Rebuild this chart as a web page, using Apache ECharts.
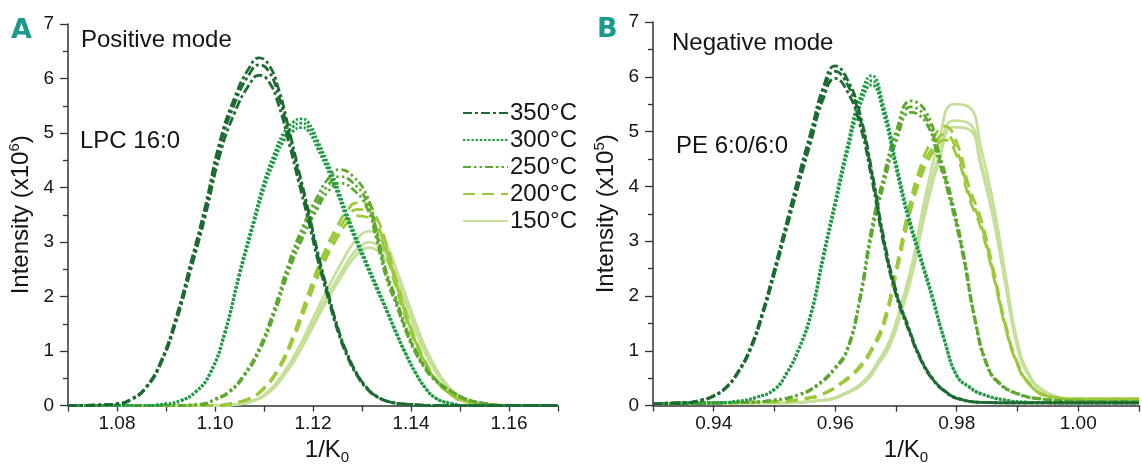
<!DOCTYPE html>
<html>
<head>
<meta charset="utf-8">
<script src="https://cdn.jsdelivr.net/npm/echarts@6/dist/echarts.min.js"></script>
<style>html,body{margin:0;padding:0;background:#fff}#c{width:1142px;height:470px}</style>
</head>
<body>
<div id="c"></div>
<script>
// ---------- DATA ----------
const temps = ['350°C', '300°C', '250°C', '200°C', '150°C'];
const colors = ['#1d6b33', '#219c48', '#5ea832', '#9cc93a', '#c6df9a'];

const xTicksA = [1.08, 1.10, 1.12, 1.14, 1.16];
const xTicksB = [0.94, 0.96, 0.98, 1.00];

// Panel A (positive mode, LPC 16:0), intensity x10^6
const xA350 = [1.070,1.076,1.080,1.083,1.086,1.089,1.092,1.095,1.098,1.101,1.104,1.107,1.109,1.111,1.113,1.115,1.117,1.119,1.121,1.123,1.125,1.127,1.129,1.131,1.133,1.136,1.140,1.145,1.170];
const yA350a = [0,0.01,0.03,0.12,0.35,0.82,1.6,2.6,3.65,4.85,5.65,6.2,6.38,6.25,5.8,5.1,4.35,3.6,2.8,2.1,1.45,0.95,0.58,0.33,0.17,0.06,0.02,0,0];
const yA350b = [0,0.01,0.03,0.12,0.34,0.8,1.57,2.55,3.58,4.75,5.54,6.08,6.25,6.13,5.68,5.0,4.26,3.53,2.74,2.06,1.42,0.93,0.57,0.32,0.17,0.06,0.02,0,0];
const yA350c = [0,0.01,0.03,0.11,0.33,0.78,1.52,2.47,3.47,4.6,5.37,5.89,6.06,5.94,5.51,4.85,4.13,3.42,2.66,2.0,1.38,0.9,0.55,0.31,0.16,0.06,0.02,0,0];

const xA300 = [1.070,1.085,1.090,1.093,1.096,1.099,1.102,1.105,1.108,1.110,1.112,1.114,1.116,1.1175,1.119,1.121,1.123,1.125,1.127,1.129,1.131,1.133,1.135,1.137,1.139,1.141,1.143,1.145,1.148,1.152,1.170];
const yA300a = [0,0,0.03,0.09,0.25,0.6,1.35,2.45,3.45,4.1,4.6,5.0,5.2,5.26,5.2,4.85,4.45,4.0,3.5,3.05,2.62,2.2,1.78,1.35,0.95,0.6,0.32,0.14,0.04,0,0];
const yA300b = [0,0,0.03,0.09,0.25,0.59,1.33,2.41,3.4,4.04,4.53,4.93,5.12,5.18,5.12,4.78,4.38,3.94,3.45,3.0,2.58,2.17,1.75,1.33,0.94,0.59,0.32,0.14,0.04,0,0];
const yA300c = [0,0,0.03,0.09,0.24,0.58,1.31,2.38,3.35,3.98,4.46,4.85,5.04,5.1,5.04,4.7,4.32,3.88,3.4,2.96,2.54,2.13,1.73,1.31,0.92,0.58,0.31,0.14,0.04,0,0];

const xA250 = [1.070,1.090,1.097,1.100,1.103,1.106,1.109,1.112,1.115,1.118,1.121,1.123,1.1255,1.128,1.131,1.133,1.135,1.137,1.139,1.141,1.143,1.145,1.148,1.151,1.155,1.160,1.170];
const yA250a = [0,0,0.02,0.12,0.27,0.58,1.05,1.75,2.6,3.3,3.85,4.15,4.33,4.22,3.85,3.2,2.45,1.95,1.42,1.0,0.7,0.48,0.28,0.13,0.04,0,0];
const yA250b = [0,0,0.02,0.11,0.26,0.56,1.02,1.7,2.52,3.2,3.73,4.03,4.2,4.1,3.74,3.12,2.4,1.9,1.38,0.98,0.68,0.47,0.27,0.13,0.04,0,0];
const yA250c = [0,0,0.02,0.11,0.25,0.55,0.99,1.65,2.45,3.1,3.63,3.92,4.08,3.98,3.63,3.03,2.33,1.85,1.35,0.95,0.66,0.45,0.26,0.12,0.04,0,0];

const xA200 = [1.070,1.100,1.104,1.107,1.110,1.113,1.116,1.119,1.122,1.125,1.127,1.129,1.131,1.133,1.135,1.137,1.139,1.141,1.143,1.145,1.148,1.151,1.155,1.160,1.170];
const yA200a = [0,0,0.05,0.13,0.33,0.7,1.3,2.05,2.75,3.3,3.58,3.72,3.7,3.45,2.95,2.3,1.7,1.2,0.8,0.5,0.22,0.08,0.02,0,0];
const yA200b = [0,0,0.05,0.13,0.32,0.68,1.26,1.98,2.66,3.19,3.46,3.6,3.58,3.34,2.86,2.23,1.65,1.16,0.77,0.48,0.21,0.08,0.02,0,0];
const yA200c = [0,0,0.05,0.12,0.31,0.66,1.22,1.92,2.57,3.09,3.35,3.48,3.46,3.23,2.76,2.15,1.59,1.12,0.75,0.47,0.21,0.07,0.02,0,0];

const xA150 = [1.070,1.100,1.105,1.108,1.111,1.114,1.117,1.120,1.123,1.126,1.128,1.130,1.1315,1.133,1.135,1.137,1.139,1.141,1.143,1.145,1.147,1.149,1.152,1.156,1.160,1.170];
const yA150a = [0,0,0.03,0.1,0.27,0.6,1.05,1.6,2.15,2.65,2.95,3.15,3.2,3.15,2.95,2.5,2.0,1.5,1.05,0.7,0.42,0.24,0.09,0.02,0,0];
const yA150b = [0,0,0.03,0.09,0.25,0.56,0.98,1.5,2.02,2.48,2.77,2.95,3.0,2.95,2.77,2.35,1.88,1.41,0.98,0.66,0.39,0.22,0.08,0.02,0,0];
const yA150c = [0,0,0.03,0.09,0.24,0.54,0.95,1.45,1.95,2.4,2.67,2.85,2.9,2.85,2.67,2.27,1.81,1.36,0.95,0.63,0.38,0.22,0.08,0.02,0,0];

// Panel B (negative mode, PE 6:0/6:0), intensity x10^5
const xB350 = [0.930,0.935,0.938,0.940,0.942,0.944,0.946,0.948,0.950,0.952,0.954,0.956,0.958,0.960,0.962,0.964,0.966,0.968,0.970,0.972,0.974,0.976,0.978,0.980,0.984,0.990,1.000,1.010];
const yB350a = [0.04,0.05,0.1,0.18,0.33,0.62,1.05,1.7,2.5,3.35,4.2,5.0,5.8,6.2,5.95,5.35,4.3,3.05,2.1,1.45,0.88,0.5,0.27,0.14,0.06,0.05,0.05,0.05];
const yB350b = [0.04,0.05,0.1,0.18,0.33,0.61,1.03,1.67,2.46,3.3,4.14,4.93,5.71,6.1,5.86,5.27,4.24,3.0,2.07,1.43,0.87,0.49,0.27,0.14,0.06,0.05,0.05,0.05];
const yB350c = [0.04,0.05,0.1,0.17,0.32,0.6,1.01,1.64,2.41,3.23,4.04,4.82,5.59,5.97,5.73,5.15,4.14,2.94,2.02,1.4,0.85,0.48,0.26,0.13,0.06,0.05,0.05,0.05];

const xB300 = [0.930,0.940,0.944,0.947,0.950,0.952,0.954,0.956,0.958,0.960,0.962,0.964,0.966,0.968,0.970,0.972,0.974,0.976,0.978,0.980,0.982,0.984,0.988,0.992,1.000,1.010];
const yB300a = [0.04,0.05,0.08,0.15,0.3,0.6,1.05,1.7,2.75,3.75,4.75,5.6,6.02,5.45,4.45,3.5,2.75,2.0,1.2,0.55,0.35,0.22,0.1,0.06,0.05,0.05];
const yB300b = [0.04,0.05,0.08,0.15,0.3,0.59,1.03,1.66,2.69,3.7,4.68,5.52,5.93,5.37,4.38,3.45,2.71,1.96,1.18,0.55,0.34,0.22,0.1,0.06,0.05,0.05];
const yB300c = [0.04,0.05,0.08,0.15,0.29,0.58,1.02,1.64,2.66,3.64,4.62,5.44,5.85,5.3,4.32,3.4,2.67,1.94,1.17,0.54,0.34,0.21,0.1,0.06,0.05,0.05];

const xB250 = [0.930,0.945,0.950,0.954,0.957,0.960,0.962,0.964,0.966,0.968,0.970,0.9725,0.975,0.977,0.979,0.981,0.983,0.985,0.987,0.990,0.994,1.000,1.010];
const yB250a = [0.04,0.06,0.1,0.2,0.38,0.7,1.05,1.95,3.25,4.2,5.0,5.56,5.35,4.65,3.85,2.85,1.6,0.75,0.42,0.22,0.12,0.08,0.07];
const yB250b = [0.04,0.06,0.1,0.2,0.37,0.69,1.03,1.91,3.18,4.12,4.9,5.45,5.24,4.56,3.77,2.79,1.57,0.74,0.41,0.22,0.12,0.08,0.07];
const yB250c = [0.04,0.06,0.1,0.19,0.36,0.67,1.01,1.88,3.12,4.04,4.81,5.35,5.15,4.48,3.7,2.74,1.54,0.72,0.4,0.21,0.12,0.08,0.07];

const xB200 = [0.930,0.950,0.955,0.958,0.961,0.964,0.966,0.968,0.970,0.972,0.974,0.976,0.978,0.980,0.982,0.984,0.986,0.988,0.990,0.992,0.995,1.000,1.010];
const yB200a = [0.04,0.07,0.13,0.22,0.42,0.72,1.05,1.55,2.5,3.55,4.35,4.85,5.1,4.8,4.0,3.4,2.5,1.5,0.78,0.4,0.18,0.12,0.12];
const yB200b = [0.04,0.07,0.13,0.21,0.41,0.7,1.02,1.5,2.43,3.45,4.22,4.71,4.95,4.66,3.88,3.3,2.43,1.46,0.76,0.39,0.17,0.12,0.12];
const yB200c = [0.04,0.07,0.12,0.21,0.4,0.68,1.0,1.47,2.38,3.37,4.13,4.61,4.85,4.56,3.8,3.23,2.38,1.43,0.74,0.38,0.17,0.12,0.12];

const xB150 = [0.930,0.950,0.958,0.962,0.965,0.967,0.969,0.971,0.973,0.974,0.975,0.977,0.9795,0.982,0.984,0.986,0.988,0.990,0.992,0.994,0.997,1.000,1.010];
const yB150a = [0.04,0.05,0.1,0.25,0.48,0.8,1.2,1.9,2.75,3.35,3.9,4.8,5.5,5.45,4.7,3.7,2.4,1.15,0.55,0.3,0.15,0.1,0.08];
const yB150b = [0.04,0.05,0.1,0.24,0.45,0.76,1.13,1.8,2.6,3.17,3.69,4.54,5.2,5.15,4.44,3.5,2.27,1.09,0.52,0.28,0.14,0.1,0.08];
const yB150c = [0.04,0.05,0.09,0.23,0.44,0.74,1.1,1.75,2.54,3.1,3.6,4.43,5.08,5.04,4.35,3.42,2.22,1.06,0.51,0.28,0.14,0.1,0.08];

// ---------- BUILD ----------
const FONT = '"Liberation Sans", Arial, sans-serif';
const TXT = '#141414';
const dashes = [[9,3,3,3], [2.4,1.8], [8,3,2.5,3,2.5,3], [12,7], 'solid'];

const panelA = [
  [xA350, [yA350a, yA350b, yA350c]],
  [xA300, [yA300a, yA300b, yA300c]],
  [xA250, [yA250a, yA250b, yA250c]],
  [xA200, [yA200a, yA200b, yA200c]],
  [xA150, [yA150a, yA150b, yA150c]]
];
const panelB = [
  [xB350, [yB350a, yB350b, yB350c]],
  [xB300, [yB300a, yB300b, yB300c]],
  [xB250, [yB250a, yB250b, yB250c]],
  [xB200, [yB200a, yB200b, yB200c]],
  [xB150, [yB150a, yB150b, yB150c]]
];

const series = [];
function addPanel(panel, axisIndex) {
  for (let t = temps.length - 1; t >= 0; t--) {
    const [xs, reps] = panel[t];
    reps.forEach(ys => {
      series.push({
        type: 'line', name: temps[t],
        xAxisIndex: axisIndex, yAxisIndex: axisIndex,
        data: xs.map((x, i) => [x, ys[i]]),
        smooth: true,
        symbol: 'none', showSymbol: false,
        clip: true,
        lineStyle: { color: colors[t], width: 2.8, type: dashes[t], cap: 'butt' },
        itemStyle: { color: colors[t] },
        emphasis: { disabled: true },
        silent: true, animation: false
      });
    });
  }
}
addPanel(panelA, 0);
addPanel(panelB, 1);

function xLabelFmt(ticks) {
  return v => ticks.some(t => Math.abs(t - v) < 1e-6) ? v.toFixed(2) : '';
}

function makeX(idx, min, max, ticks, padLeft) {
  return {
    type: 'value', gridIndex: idx, min: min, max: max, interval: 0.01,
    splitLine: { show: false },
    axisLine: { onZero: false, lineStyle: { color: '#333', width: 1.5 } },
    axisTick: { show: true, length: 6, lineStyle: { color: '#333', width: 1.3 } },
    axisLabel: { formatter: xLabelFmt(ticks), fontSize: 19, color: TXT, fontFamily: FONT, margin: 9, showMaxLabel: true, showMinLabel: true },
    name: '1/K{s|0}', nameLocation: 'middle', nameGap: 20,
    nameTextStyle: { fontSize: 24, color: TXT, fontFamily: FONT, padding: [0, 0, 0, padLeft],
      rich: { s: { fontSize: 15, fontFamily: FONT, color: TXT, padding: [14, 0, 0, 0] } } }
  };
}
function makeY(idx, exp) {
  return {
    type: 'value', gridIndex: idx, min: 0, max: 7, interval: 1,
    splitLine: { show: false },
    axisLine: { show: true, onZero: false, lineStyle: { color: '#333', width: 1.5 } },
    axisTick: { show: true, length: 8, lineStyle: { color: '#333', width: 1.3 } },
    minorTick: { show: true, splitNumber: 2, length: 5, lineStyle: { color: '#333', width: 1.3 } },
    minorSplitLine: { show: false },
    axisLabel: { fontSize: 19, color: TXT, fontFamily: FONT, margin: 14 },
    name: 'Intensity (x10{p|' + exp + '})', nameLocation: 'middle', nameGap: 32, nameRotate: 90,
    nameTextStyle: { fontSize: 24, color: TXT, fontFamily: FONT,
      rich: { p: { fontSize: 15, fontFamily: FONT, color: TXT, padding: [0, 0, 14, 0] } } }
  };
}

const option = {
  backgroundColor: '#fff',
  animation: false,
  textStyle: { fontFamily: FONT },
  grid: [
    { left: 68, top: 24, width: 490, bottom: 54, containLabel: false },
    { left: 653, top: 22, width: 492, bottom: 54, containLabel: false }
  ],
  xAxis: [ makeX(0, 1.07, 1.17, xTicksA, 28), makeX(1, 0.93, 1.01, xTicksB, 20) ],
  yAxis: [ makeY(0, '6'), makeY(1, '5') ],
  legend: {
    data: temps, orient: 'vertical', left: 457, top: 96,
    itemWidth: 45, itemHeight: 14, itemGap: 3,
    itemStyle: { opacity: 0, borderWidth: 0 },
    textStyle: { fontSize: 24, color: TXT, fontFamily: FONT, padding: [0, 0, 0, -3] },
    selectedMode: false
  },
  graphic: [
    { type: 'text', left: 11, top: 17, style: { text: 'A', fontSize: 27, fontWeight: 'bold', fill: '#1a9a8c', fontFamily: '"DejaVu Sans", sans-serif' } },
    { type: 'text', left: 597, top: 16, style: { text: 'B', fontSize: 27, fontWeight: 'bold', fill: '#1a9a8c', fontFamily: '"DejaVu Sans", sans-serif' } },
    { type: 'text', left: 81, top: 28, style: { text: 'Positive mode', fontSize: 24, fill: TXT, fontFamily: FONT } },
    { type: 'text', left: 80, top: 129, style: { text: 'LPC 16:0', fontSize: 24, fill: TXT, fontFamily: FONT } },
    { type: 'text', left: 672, top: 31, style: { text: 'Negative mode', fontSize: 24, fill: TXT, fontFamily: FONT } },
    { type: 'text', left: 676, top: 134, style: { text: 'PE 6:0/6:0', fontSize: 24, fill: TXT, fontFamily: FONT } }
  ],
  series: series
};

const chart = echarts.init(document.getElementById('c'), null, { renderer: 'canvas' });
chart.setOption(option);
</script>
</body>
</html>
